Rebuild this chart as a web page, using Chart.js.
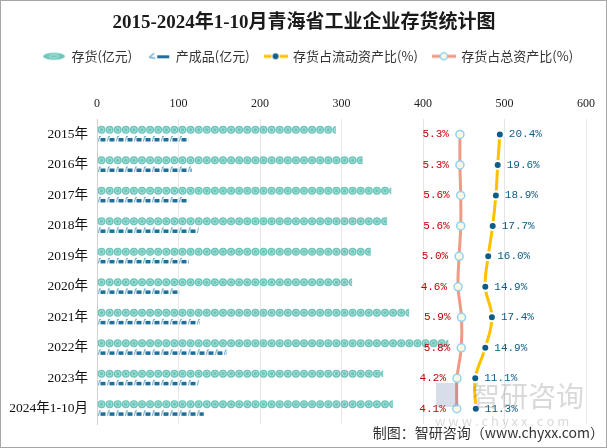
<!DOCTYPE html>
<html>
<head>
<meta charset="utf-8">
<script src="https://cdn.jsdelivr.net/npm/chart.js@4"></script>
<style>
  body { margin: 0; background: #fff; }
  canvas { display: block; }
</style>
</head>
<body>
<canvas id="chart" width="607" height="448"></canvas>
<script>
// data
const years = ['2015年', '2016年', '2017年', '2018年', '2019年', '2020年', '2021年', '2022年', '2023年', '2024年1-10月'];
const inventory = [293, 326, 361, 356, 336, 313, 383, 431, 351, 363];
const finishedGoods = [112, 116, 112, 125, 113, 101, 126, 159, 125, 131];
const currentRatio = [20.4, 19.6, 18.9, 17.7, 16.0, 14.9, 17.4, 14.9, 11.1, 11.3];
const totalRatio = [5.3, 5.3, 5.6, 5.6, 5.0, 4.6, 5.9, 5.8, 4.2, 4.1];
const xTicks = [0, 100, 200, 300, 400, 500, 600];

const serif = '"Liberation Serif", "Noto Sans CJK SC", serif';
const cjk = '"Noto Sans CJK SC", sans-serif';
const mono = '"Liberation Mono", monospace';

// small canvases used as legend icons
function icon(draw) {
    const c = document.createElement('canvas');
    c.width = 24;
    c.height = 10;
    draw(c.getContext('2d'));
    return c;
}
const legendIcons = [
    icon(ctx => {
        ctx.fillStyle = '#6cc6bb';
        ctx.beginPath();
        ctx.ellipse(12, 5, 11, 3.5, 0, 0, Math.PI * 2);
        ctx.fill();
        ctx.strokeStyle = '#b7e6e0';
        ctx.beginPath();
        ctx.ellipse(12, 5, 5, 1.5, 0, 0, Math.PI * 2);
        ctx.stroke();
    }),
    icon(ctx => {
        ctx.strokeStyle = '#6aaed0';
        ctx.lineWidth = 1.5;
        ctx.beginPath();
        ctx.moveTo(3, 6); ctx.lineTo(8, 2);
        ctx.moveTo(3, 6); ctx.lineTo(9, 7);
        ctx.stroke();
        ctx.fillStyle = '#1f6f98';
        ctx.fillRect(11, 4, 12, 3);
    }),
    icon(ctx => {
        ctx.strokeStyle = '#ffc000';
        ctx.lineWidth = 3;
        ctx.beginPath();
        ctx.moveTo(0, 5); ctx.lineTo(8, 5);
        ctx.moveTo(16, 5); ctx.lineTo(24, 5);
        ctx.stroke();
        ctx.fillStyle = '#0d5d86';
        ctx.beginPath();
        ctx.arc(12, 5, 3, 0, Math.PI * 2);
        ctx.fill();
    }),
    icon(ctx => {
        ctx.strokeStyle = '#ee9a84';
        ctx.lineWidth = 3;
        ctx.beginPath();
        ctx.moveTo(0, 5); ctx.lineTo(24, 5);
        ctx.stroke();
        ctx.fillStyle = '#fdf8e4';
        ctx.strokeStyle = '#8fd3f0';
        ctx.lineWidth = 1.5;
        ctx.beginPath();
        ctx.arc(12, 5, 3.5, 0, Math.PI * 2);
        ctx.fill();
        ctx.stroke();
    })
];

// draws the bars as rows of circles / small glyphs inside the bar rectangles
const patternBars = {
    id: 'patternBars',
    afterDatasetDraw(chart, args) {
        const ctx = chart.ctx;
        if (args.index > 1) return;
        args.meta.data.forEach(bar => {
            const left = bar.base;
            const right = bar.x;
            const top = bar.y - bar.height / 2;
            const h = bar.height;
            ctx.save();
            ctx.beginPath();
            ctx.rect(left, top - 1, right - left, h + 2);
            ctx.clip();
            if (args.index === 0) {
                const r = h / 2;
                for (let cx = left + r; cx - r < right; cx += 8.1) {
                    ctx.fillStyle = '#6cc6bb';
                    ctx.beginPath();
                    ctx.arc(cx, bar.y, r, 0, Math.PI * 2);
                    ctx.fill();
                    ctx.strokeStyle = '#aee2db';
                    ctx.lineWidth = 1;
                    ctx.beginPath();
                    ctx.arc(cx, bar.y, r * 0.55, 0, Math.PI * 2);
                    ctx.stroke();
                }
            } else {
                for (let gx = left; gx < right; gx += 9) {
                    ctx.strokeStyle = '#5fa6cb';
                    ctx.lineWidth = 1;
                    ctx.beginPath();
                    ctx.moveTo(gx + 1, top + h);
                    ctx.lineTo(gx + 2, top);
                    ctx.lineTo(gx + 3.5, top);
                    ctx.stroke();
                    ctx.fillStyle = '#1f6f98';
                    ctx.fillRect(gx + 3, top + 1.5, 5, h - 1.5);
                }
            }
            ctx.restore();
        });
    }
};

// percentage labels next to the line points, source text, watermark, frame
const extras = {
    id: 'extras',
    afterLayout(chart) {
        // title and legend are centred on the whole page, not on the padded box
        chart.titleBlock.right = 608;
        chart.legend.left = 9;
        chart.legend.right = 607;
    },
    afterDatasetsDraw(chart) {
        const ctx = chart.ctx;
        ctx.save();
        ctx.font = '11px ' + mono;
        ctx.textBaseline = 'middle';
        chart.getDatasetMeta(3).data.forEach((pt, i) => {
            ctx.fillStyle = '#c00000';
            ctx.textAlign = 'right';
            ctx.fillText(totalRatio[i].toFixed(1) + '%', pt.x - 11, pt.y);
        });
        chart.getDatasetMeta(2).data.forEach((pt, i) => {
            ctx.fillStyle = '#0d5d86';
            ctx.textAlign = 'left';
            ctx.fillText(currentRatio[i].toFixed(1) + '%', pt.x + 9, pt.y);
        });

        // watermark
        ctx.fillStyle = 'rgba(120,120,120,0.28)';
        ctx.textAlign = 'left';
        ctx.font = '28px ' + cjk;
        ctx.fillText('智研咨询', 472, 396);
        ctx.font = '13px ' + cjk;
        ctx.fillText('w w w . c h y x x . c o m', 435, 421);
        ctx.fillStyle = 'rgba(100,120,170,0.25)';
        ctx.fillRect(436, 383, 22, 24);

        ctx.fillStyle = '#333';
        ctx.font = '14px ' + cjk;
        ctx.textAlign = 'right';
        ctx.fillText('制图：智研咨询（www.chyxx.com）', 604, 433);

        ctx.strokeStyle = '#a6a6a6';
        ctx.lineWidth = 1;
        ctx.strokeRect(0.5, 0.5, chart.width - 1, chart.height - 1);
        ctx.restore();
    }
};

const ctx = document.getElementById('chart').getContext('2d');
const chart = new Chart(ctx, {
    data: {
        labels: years,
        datasets: [{
            type: 'bar',
            label: '存货(亿元)',
            data: inventory,
            backgroundColor: 'rgba(0,0,0,0)',
            maxBarThickness: 8,
            categoryPercentage: 0.6,
            barPercentage: 1,
            xAxisID: 'x',
            order: 3
        }, {
            type: 'bar',
            label: '产成品(亿元)',
            data: finishedGoods,
            backgroundColor: 'rgba(0,0,0,0)',
            maxBarThickness: 5,
            categoryPercentage: 0.6,
            barPercentage: 1,
            xAxisID: 'x',
            order: 4
        }, {
            type: 'line',
            label: '存货占流动资产比(%)',
            data: currentRatio,
            indexAxis: 'y',
            xAxisID: 'x2',
            borderColor: '#ffc000',
            borderWidth: 3,
            tension: 0.4,
            pointStyle: 'circle',
            pointRadius: 4,
            pointBackgroundColor: '#0d5d86',
            pointBorderColor: '#ffffff',
            pointBorderWidth: 2,
            order: 1
        }, {
            type: 'line',
            label: '存货占总资产比(%)',
            data: totalRatio,
            indexAxis: 'y',
            xAxisID: 'x2',
            borderColor: '#ee9a84',
            borderWidth: 3,
            tension: 0.4,
            pointStyle: 'circle',
            pointRadius: 4,
            pointBackgroundColor: '#fdf8e4',
            pointBorderColor: '#8fd3f0',
            pointBorderWidth: 1.5,
            order: 2
        }]
    },
    options: {
        indexAxis: 'y',
        responsive: false,
        animation: false,
        layout: { padding: { left: 0, right: 21, top: 10, bottom: 24 } },
        plugins: {
            title: {
                display: true,
                text: '2015-2024年1-10月青海省工业企业存货统计图',
                color: '#1a1a1a',
                font: { family: serif, size: 19, weight: 'bold' },
                padding: { top: 2, bottom: 0 }
            },
            legend: {
                labels: {
                    usePointStyle: true,
                    pointStyleWidth: 22,
                    color: '#333',
                    font: { family: cjk, size: 13 },
                    padding: 15,
                    generateLabels(chart) {
                        return chart.data.datasets.map((ds, i) => ({
                            text: ds.label,
                            pointStyle: legendIcons[i],
                            fillStyle: 'rgba(0,0,0,0)',
                            strokeStyle: 'rgba(0,0,0,0)',
                            lineWidth: 0,
                            fontColor: '#333',
                            datasetIndex: i,
                            hidden: false
                        }));
                    }
                }
            },
            tooltip: { enabled: false }
        },
        scales: {
            x: {
                position: 'top',
                min: 0,
                max: 600,
                afterBuildTicks: scale => { scale.ticks = xTicks.map(v => ({ value: v })); },
                afterFit: scale => { scale.height += 16; },
                ticks: { color: '#222', font: { family: serif, size: 12 }, padding: 8 },
                grid: { color: '#e6e6e6', drawTicks: false },
                border: { display: false }
            },
            x2: {
                type: 'linear',
                position: 'top',
                display: false,
                min: -132,
                max: 53
            },
            y: {
                afterFit: scale => { scale.width = 97; },
                ticks: { color: '#111', font: { family: serif, size: 13.5 }, padding: 9 },
                grid: { display: false, drawTicks: false },
                border: { color: '#d0d0d0' }
            }
        }
    },
    plugins: [patternBars, extras]
});
</script>
</body>
</html>
